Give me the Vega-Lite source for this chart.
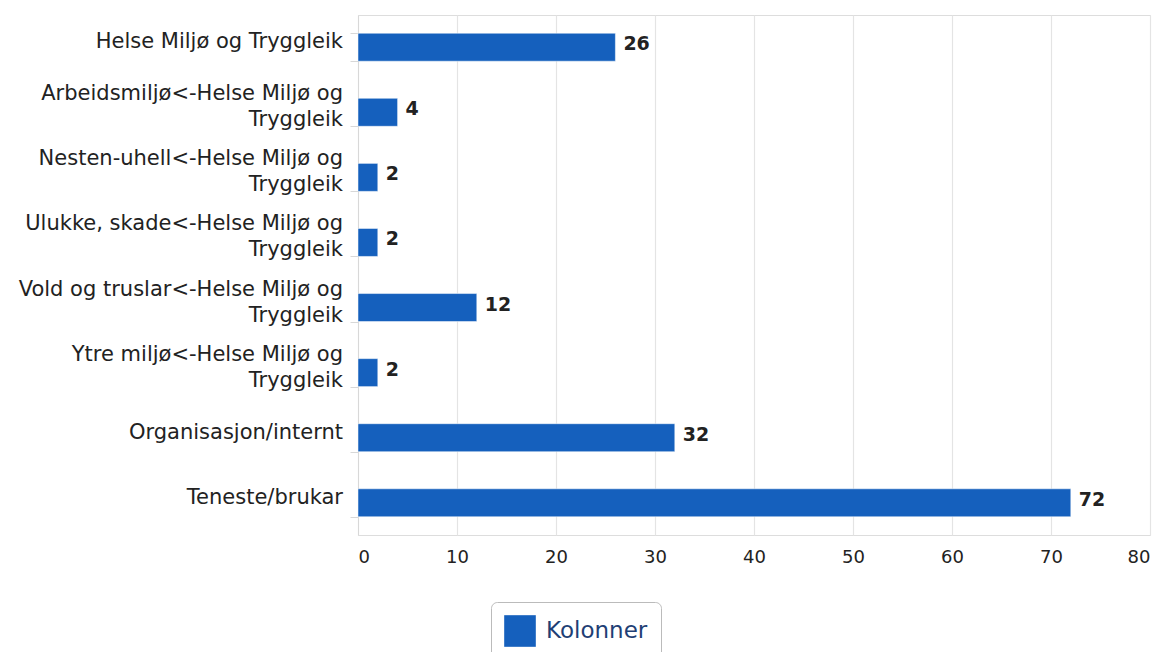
{
  "$schema": "https://vega.github.io/schema/vega-lite/v6.json",
  "width": 792,
  "height": 520,
  "autosize": {"type": "none"},
  "padding": {"left": 358, "top": 15, "right": 13, "bottom": 117},
  "background": "white",
  "data": {"values": [
    {"kategori": "Helse Miljø og Tryggleik", "antal": 26, "serie": "Kolonner"},
    {"kategori": "Arbeidsmiljø<-Helse Miljø og|Tryggleik", "antal": 4, "serie": "Kolonner"},
    {"kategori": "Nesten-uhell<-Helse Miljø og|Tryggleik", "antal": 2, "serie": "Kolonner"},
    {"kategori": "Ulukke, skade<-Helse Miljø og|Tryggleik", "antal": 2, "serie": "Kolonner"},
    {"kategori": "Vold og truslar<-Helse Miljø og|Tryggleik", "antal": 12, "serie": "Kolonner"},
    {"kategori": "Ytre miljø<-Helse Miljø og|Tryggleik", "antal": 2, "serie": "Kolonner"},
    {"kategori": "Organisasjon/internt", "antal": 32, "serie": "Kolonner"},
    {"kategori": "Teneste/brukar", "antal": 72, "serie": "Kolonner"}
  ]},
  "encoding": {
    "y": {
      "field": "kategori", "type": "nominal", "sort": null,
      "scale": {"paddingInner": 0.57, "paddingOuter": 0.28},
      "axis": {
        "title": null, "labels": false,
        "domainColor": "#d8d8d8", "tickColor": "#d8d8d8", "tickBand": "extent", "tickSize": 8,
        "grid": false
      }
    }
  },
  "layer": [
    {
      "mark": {"type": "bar", "stroke": "#ffffff", "strokeWidth": 0.5},
      "encoding": {
        "x": {
          "field": "antal", "type": "quantitative",
          "scale": {"domain": [0, 80], "nice": false},
          "axis": {
            "title": null, "values": [0,10,20,30,40,50,60,70,80],
            "labelFont": "DejaVu Sans", "labelFontSize": 18, "labelColor": "#222222",
            "labelPadding": 13, "domain": false, "ticks": false,
            "grid": true, "gridColor": "#e4e4e4", "gridWidth": 1.2
          }
        },
        "color": {
          "field": "serie", "type": "nominal",
          "scale": {"range": ["#1560bd"]},
          "legend": {
            "title": null, "orient": "none", "legendX": 133, "legendY": 587,
            "symbolType": "square", "symbolSize": 1000, "symbolStrokeWidth": 0,
            "labelFont": "DejaVu Sans", "labelFontSize": 23, "labelColor": "#1f3f75",
            "strokeColor": "#bbbbbb", "cornerRadius": 6, "padding": 13,
            "fillColor": "white", "labelOffset": 10
          }
        }
      }
    },
    {
      "mark": {"type": "text", "align": "left", "dx": 8, "dy": -3, "font": "DejaVu Sans", "fontSize": 19, "fontWeight": "bold", "color": "#222222"},
      "encoding": {
        "x": {"field": "antal", "type": "quantitative"},
        "text": {"field": "antal", "type": "quantitative"}
      }
    },
    {
      "mark": {
        "type": "text", "align": "right", "baseline": "middle", "dx": -15,
        "font": "DejaVu Sans", "fontSize": 21, "color": "#222222", "lineHeight": 26,
        "text": {"expr": "split(datum.kategori, '|')"},
        "dy": {"expr": "indexof(datum.kategori, '|') >= 0 ? -18 : -5"}
      },
      "encoding": {
        "x": {"datum": 0, "type": "quantitative"}
      }
    }
  ]
}
